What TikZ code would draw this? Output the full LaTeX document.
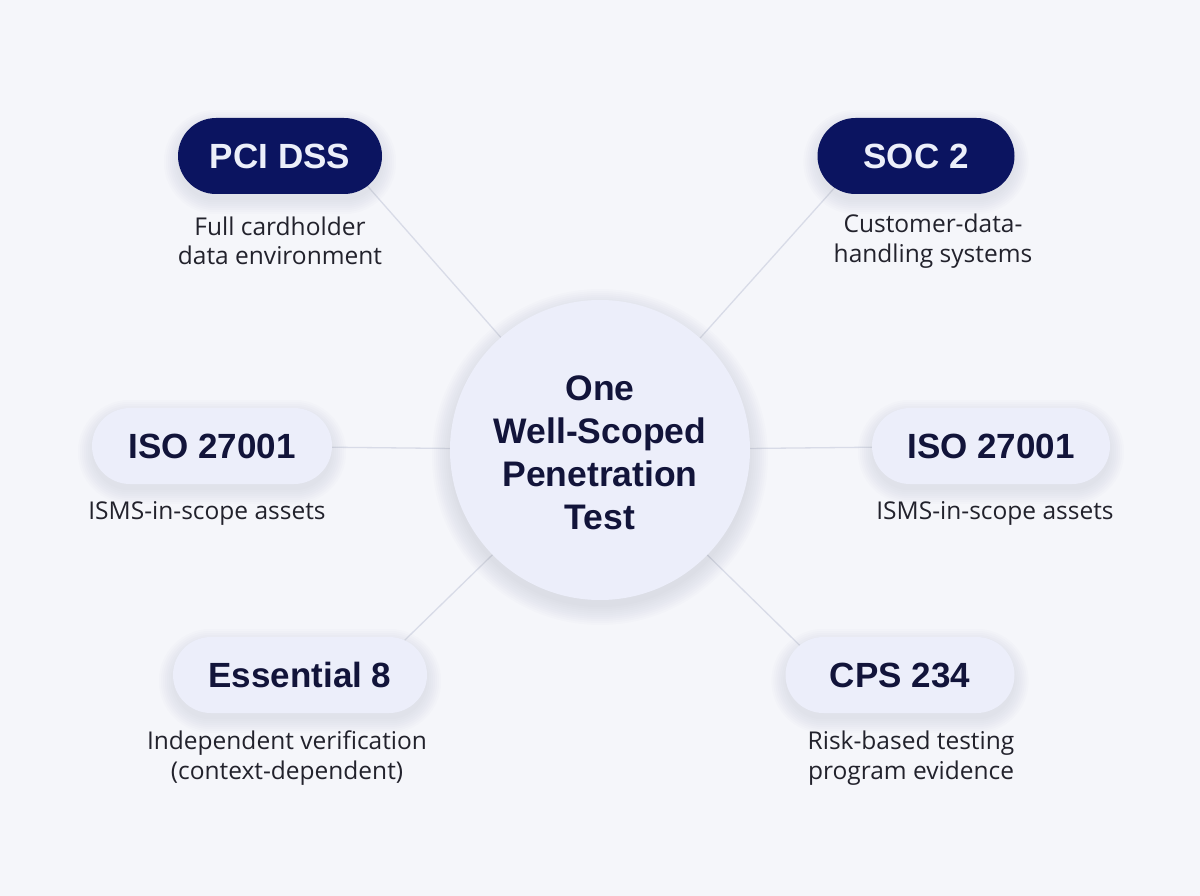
\documentclass[tikz,border=0pt]{standalone}
\usepackage{fontspec}
\setmainfont{Liberation Sans}
\newfontfamily\subfont{Open Sans}
\usetikzlibrary{calc}
\definecolor{bgc}{RGB}{245,246,250}
\definecolor{navy}{RGB}{11,20,96}
\definecolor{lightpill}{RGB}{236,238,250}
\definecolor{pilltxt}{RGB}{236,239,250}
\definecolor{darktxt}{RGB}{18,20,58}
\definecolor{subtxt}{RGB}{34,34,44}
\definecolor{linec}{RGB}{216,219,231}
\definecolor{shadowc}{RGB}{60,64,110}
\pgfdeclarelayer{background}
\pgfdeclarelayer{shadow}
\pgfsetlayers{background,shadow,main}
\tikzset{
  pillbase/.style={rectangle, rounded corners=38pt, minimum height=76pt, inner sep=0pt,
    font=\fontsize{35}{42}\selectfont\bfseries},
  darkpill/.style={pillbase, fill=navy, text=pilltxt},
  lightpill/.style={pillbase, fill=lightpill, text=darktxt},
  sublabel/.style={align=center, text=subtxt, font=\subfont\fontsize{24.5}{29.5}\selectfont, inner sep=0pt},
  hub/.style={circle, minimum size=300pt, inner sep=0pt, fill=lightpill},
  hubtext/.style={align=center, text=darktxt, inner sep=0pt, font=\fontsize{35.5}{43}\selectfont\bfseries},
  spoke/.style={draw=linec, line width=1.3pt},
  softshade/.style={fill=shadowc, opacity=0.012}
}
\begin{document}
\begin{tikzpicture}[x=1pt,y=-1pt]
\begin{pgfonlayer}{background}
\fill[bgc] (0,0) rectangle (1200,896);
\end{pgfonlayer}
\useasboundingbox (0,0) rectangle (1200,896);

\node[hub] (hub) at (600,450) {};
\node[hubtext] (hubt) at (600,453) {One\\Well-Scoped\\Penetration\\Test};

\node[darkpill, minimum width=204pt] (pci) at (280,156) {PCI DSS};
\node[sublabel] (pcis) at (280,241) {Full cardholder\\data environment};

\node[darkpill, minimum width=197pt] (soc) at (916,156) {SOC 2};
\node[sublabel] (socs) at (933,241) {Customer-data-\\handling systems};

\node[lightpill, minimum width=240pt] (isol) at (212,446) {ISO 27001};
\node[sublabel] (isols) at (207,513) {ISMS-in-scope assets};

\node[lightpill, minimum width=238pt] (isor) at (991,446) {ISO 27001};
\node[sublabel] (isors) at (995,513) {ISMS-in-scope assets};

\node[lightpill, minimum width=254pt] (ess) at (300,675) {Essential 8};
\node[sublabel] (esss) at (287,758) {Independent verification\\(context-dependent)};

\node[lightpill, minimum width=229pt] (cps) at (900,675) {CPS 234};
\node[sublabel] (cpss) at (911,758) {Risk-based testing\\program evidence};

\coordinate (pciend) at ($(pci)+(61,0)$);
\coordinate (socend) at ($(soc)+(-53,0)$);
\coordinate (essend) at ($(ess)+(69,0)$);
\coordinate (cpsend) at ($(cps)+(-70,0)$);

\begin{pgfonlayer}{background}
\draw[spoke] (hub.center) -- (pciend);
\draw[spoke] (hub.center) -- (socend);
\draw[spoke] (hub.center) -- (isol.center);
\draw[spoke] (hub.center) -- (isor.center);
\draw[spoke] (hub.center) -- (essend);
\draw[spoke] (hub.center) -- (cpsend);
\end{pgfonlayer}

\begin{pgfonlayer}{shadow}
\foreach \n in {pci,soc,isol,isor,ess,cps}{
  \foreach \i in {0,2,...,14}{
    \pgfmathsetmacro{\rr}{38+\i}
    \fill[softshade, rounded corners=\rr pt]
      ($(\n.south west)+(-\i,\i+6)$) rectangle ($(\n.north east)+(\i,-\i+6)$);
  }
}
\foreach \i in {0,2,...,18}{
  \fill[softshade] ($(hub.center)+(0,7)$) circle (150+\i);
}
\end{pgfonlayer}
\end{tikzpicture}
\end{document}
